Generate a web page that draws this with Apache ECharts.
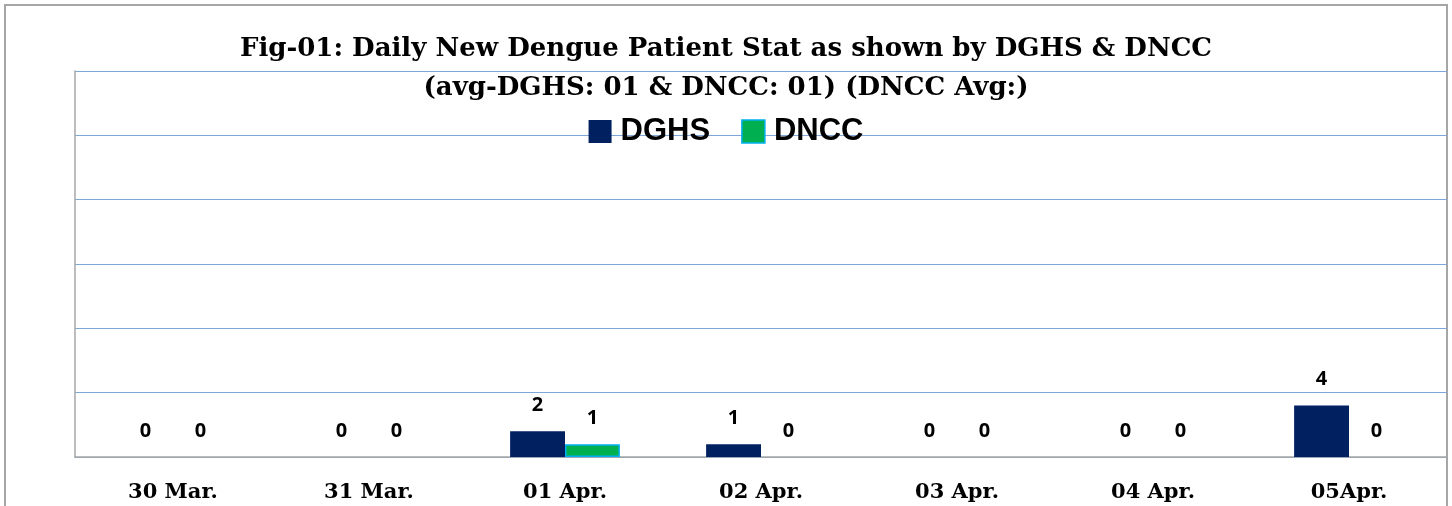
<!DOCTYPE html>
<html>
<head>
<meta charset="utf-8">
<script src="https://cdn.jsdelivr.net/npm/echarts@6/dist/echarts.min.js"></script>
<style>
	html, body { margin: 0; padding: 0; background: #fff; }
	#chart { width: 1452px; height: 506px; }
</style>
</head>
<body>
<div id="chart"></div>
<script>
// 日期类目
const categories = ['30 Mar.', '31 Mar.', '01 Apr.', '02 Apr.', '03 Apr.', '04 Apr.', '05Apr.'];
// 两个来源的每日新增
const dghsValues = [0, 0, 2, 1, 0, 0, 4];
const dnccValues = [0, 0, 1, 0, 0, 0, 0];
// y 轴刻度（不显示标签）
const yTicks = [0, 5, 10, 15, 20, 25, 30];

const titleLines = [
	'Fig-01: Daily New Dengue Patient Stat as shown by DGHS & DNCC',
	'(avg-DGHS: 01 & DNCC: 01) (DNCC Avg:)'
];

const chart = echarts.init(document.getElementById('chart'));

const labelStyle = {
	show: true,
	position: 'top',
	distance: 16,
	color: '#000',
	fontFamily: 'Open Sans',
	fontWeight: 'bold',
	fontSize: 20
};

const titleFont = { fontFamily: 'DejaVu Serif', fontWeight: 'bold', fontSize: 26, color: '#000' };

chart.setOption({
	animation: false,
	backgroundColor: '#fff',
	// 外边框
	graphic: [{
		type: 'rect',
		shape: { x: 5, y: 5, width: 1442, height: 600 },
		style: { fill: 'none', stroke: '#a6a6a6', lineWidth: 2 },
		z: -1
	}],
	title: [
		{ text: titleLines[0], left: 'center', top: 31, textStyle: titleFont },
		{ text: titleLines[1], left: 'center', top: 70, textStyle: titleFont }
	],
	legend: {
		top: 111,
		left: 'center',
		icon: 'rect',
		itemWidth: 23,
		itemHeight: 23,
		itemGap: 31,
		textStyle: {
			fontFamily: 'Liberation Sans',
			fontWeight: 'bold',
			fontSize: 31,
			color: '#000',
			padding: [0, 0, 0, 4]
		},
		data: [
			{ name: 'DGHS', itemStyle: { color: '#002060', borderWidth: 0 } },
			{ name: 'DNCC', itemStyle: { color: '#00b050', borderColor: '#00b0f0', borderWidth: 1.5 } }
		]
	},
	grid: {
		left: 75,
		right: 5,
		top: 71,
		bottom: 49,
		containLabel: false
	},
	xAxis: {
		type: 'category',
		data: categories,
		axisLine: { show: true, lineStyle: { color: '#a6a6a6', width: 1.5 } },
		axisTick: { show: false },
		axisLabel: {
			margin: 25,
			color: '#000',
			fontFamily: 'DejaVu Serif',
			fontWeight: 'bold',
			fontSize: 21,
			interval: 0
		}
	},
	yAxis: {
		type: 'value',
		min: yTicks[0],
		max: yTicks[yTicks.length - 1],
		interval: yTicks[1] - yTicks[0],
		axisLine: { show: true, lineStyle: { color: '#a6a6a6', width: 1.5 } },
		axisTick: { show: false },
		axisLabel: { show: false },
		splitLine: { lineStyle: { color: '#7ea6d8', width: 1 } }
	},
	series: [
		{
			name: 'DGHS',
			type: 'bar',
			data: dghsValues,
			barGap: '0%',
			barCategoryGap: '44%',
			itemStyle: { color: '#002060' },
			label: labelStyle
		},
		{
			name: 'DNCC',
			type: 'bar',
			// 零值不画边框，避免贴着横轴出现一条蓝线
			data: dnccValues.map(v => ({
				value: v,
				itemStyle: { borderWidth: v ? 1.5 : 0 }
			})),
			barGap: '0%',
			barCategoryGap: '44%',
			itemStyle: { color: '#00b050', borderColor: '#00b0f0', borderWidth: 1.5 },
			label: labelStyle
		}
	]
});
</script>
</body>
</html>
